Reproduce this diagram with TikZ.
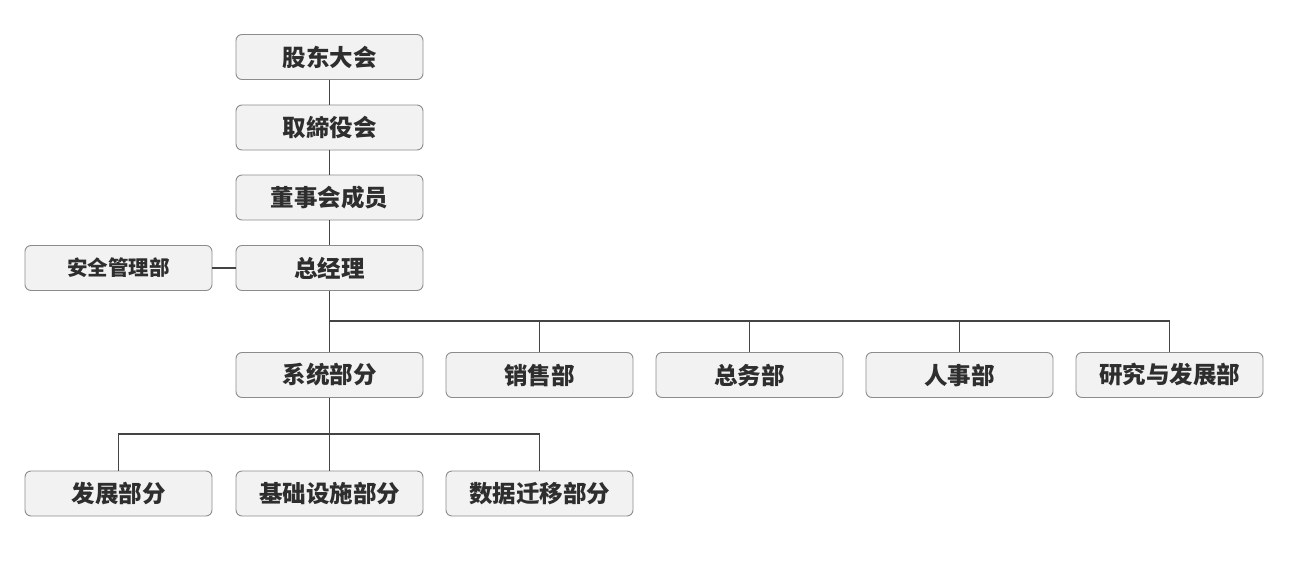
\documentclass[tikz,border=0pt]{standalone}
\usepackage{fontspec}
\newfontfamily\cjk{Noto Sans CJK SC}
\usetikzlibrary{calc}

\definecolor{boxfill}{HTML}{F2F2F2}
\definecolor{boxline}{HTML}{8C8C8C}
\definecolor{linkline}{HTML}{444444}
\definecolor{textcol}{HTML}{2E2E2E}

\begin{document}
\begin{tikzpicture}[x=1pt, y=-1pt,
    unit/.style={draw=boxline, line width=0.9pt, fill=boxfill, rounded corners=6pt,
        minimum width=187pt, minimum height=45pt, inner sep=0pt, text=textcol,
        font=\cjk\bfseries\fontsize{23.5}{28}\selectfont},
    link/.style={draw=linkline, line width=1.7pt}]

    \useasboundingbox (0,0) rectangle (1300,575);

    % Top chain
    \node [unit] (meeting) at (329.5,57) {股东大会};
    \node [unit] (board) at (329.5,127.5) {取締役会};
    \node [unit] (members) at (329.5,197.5) {董事会成员};
    \node [unit] (gm) at (329.5,268) {总经理};
    \node [unit, font=\cjk\bfseries\fontsize{20.5}{24}\selectfont] (safety) at (118.5,268) {安全管理部};

    % Departments
    \node [unit] (system) at (329.5,375) {系统部分};
    \node [unit] (sales) at (539.5,375) {销售部};
    \node [unit] (affairs) at (749.5,375) {总务部};
    \node [unit] (hr) at (959.5,375) {人事部};
    \node [unit] (rnd) at (1169.5,375) {研究与发展部};

    % Sub units
    \node [unit] (devel) at (118.5,493.5) {发展部分};
    \node [unit] (infra) at (329.5,493.5) {基础设施部分};
    \node [unit] (migrate) at (539.5,493.5) {数据迁移部分};

    % Bus lines
    \coordinate (bus) at (329.5,321);
    \coordinate (subbus) at (329.5,434);

    % Links
    \draw [link] (meeting) -- (board);
    \draw [link] (board) -- (members);
    \draw [link] (members) -- (gm);
    \draw [link] (safety) -- (gm);
    \draw [link] (gm) -- (system);
    \foreach \dept in {sales, affairs, hr, rnd}
        \draw [link] (bus) -| (\dept);
    \draw [link] (system) -- (infra);
    \foreach \sub in {devel, migrate}
        \draw [link] (subbus) -| (\sub);

\end{tikzpicture}
\end{document}
